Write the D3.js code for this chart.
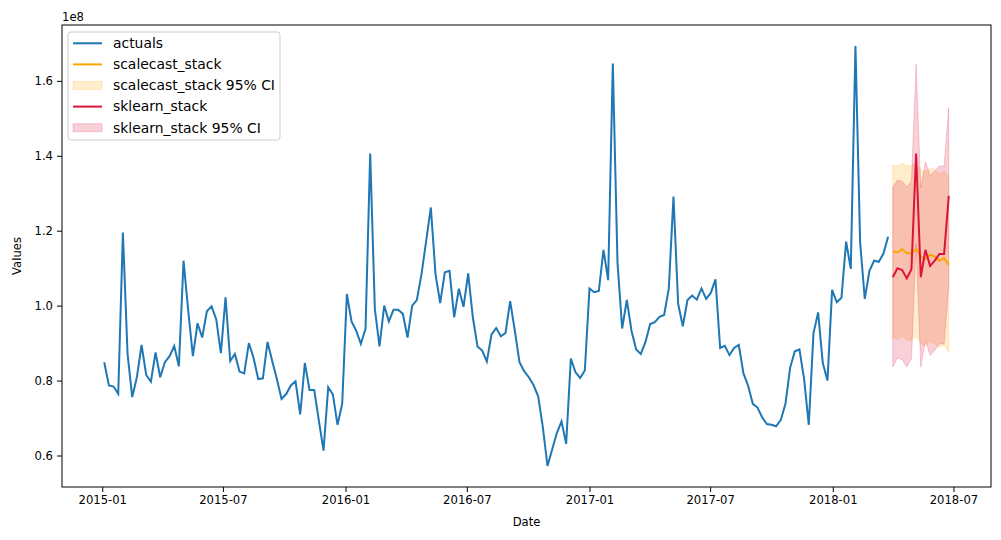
<!DOCTYPE html>
<html>
<head>
<meta charset="utf-8">
<script src="https://cdn.jsdelivr.net/npm/d3@7"></script>
<style>
  body { margin: 0; background: #fff; }
  svg { font-family: "DejaVu Sans", sans-serif; }
</style>
</head>
<body>
<script>
// weekly actuals, in units of 1e8
const actuals = [
  0.849, 0.787, 0.784, 0.765, 1.195, 0.871, 0.756, 0.809, 0.895, 0.815,
  0.797, 0.875, 0.809, 0.849, 0.865, 0.892, 0.838, 1.120, 0.987, 0.865,
  0.953, 0.915, 0.985, 0.998, 0.964, 0.873, 1.022, 0.852, 0.871, 0.824,
  0.819, 0.900, 0.861, 0.804, 0.806, 0.903, 0.852, 0.804, 0.751, 0.764,
  0.787, 0.798, 0.710, 0.847, 0.775, 0.775, 0.693, 0.613, 0.782, 0.763,
  0.682, 0.738, 1.031, 0.958, 0.933, 0.898, 0.938, 1.406, 0.991, 0.891,
  1.000, 0.958, 0.989, 0.989, 0.978, 0.915, 1.000, 1.015, 1.084, 1.173,
  1.262, 1.084, 1.007, 1.089, 1.093, 0.969, 1.045, 0.997, 1.086, 0.969,
  0.891, 0.880, 0.851, 0.923, 0.940, 0.918, 0.927, 1.012, 0.933, 0.849,
  0.825, 0.809, 0.788, 0.758, 0.676, 0.572, 0.616, 0.660, 0.691, 0.631,
  0.859, 0.822, 0.807, 0.827, 1.046, 1.036, 1.039, 1.149, 1.068, 1.646,
  1.115, 0.939, 1.015, 0.933, 0.883, 0.871, 0.903, 0.951, 0.956, 0.970,
  0.975, 1.046, 1.291, 1.005, 0.945, 1.015, 1.027, 1.016, 1.046, 1.018,
  1.034, 1.070, 0.887, 0.893, 0.868, 0.887, 0.895, 0.819, 0.786, 0.738,
  0.728, 0.702, 0.684, 0.682, 0.678, 0.695, 0.738, 0.834, 0.878, 0.883,
  0.804, 0.682, 0.926, 0.982, 0.847, 0.800, 1.042, 1.009, 1.021, 1.171,
  1.098, 1.693, 1.169, 1.018, 1.093, 1.120, 1.117, 1.139, 1.184
];

// 13 week forecast
const scalecast = [1.145, 1.142, 1.151, 1.140, 1.140, 1.151, 1.131, 1.125, 1.136, 1.131, 1.120, 1.127, 1.109];
const scalecastUpper = [1.375, 1.373, 1.380, 1.373, 1.373, 1.381, 1.363, 1.357, 1.368, 1.363, 1.352, 1.359, 1.341];
const scalecastLower = [0.913, 0.910, 0.919, 0.908, 0.908, 0.919, 0.899, 0.893, 0.904, 0.899, 0.888, 0.895, 0.877];

const sklearn = [1.076, 1.100, 1.095, 1.073, 1.097, 1.406, 1.076, 1.149, 1.106, 1.120, 1.138, 1.138, 1.293];
const sklearnUpper = [1.316, 1.335, 1.332, 1.316, 1.332, 1.645, 1.314, 1.384, 1.347, 1.360, 1.373, 1.373, 1.529];
const sklearnLower = [0.836, 0.860, 0.856, 0.836, 0.858, 1.166, 0.836, 0.907, 0.867, 0.880, 0.898, 0.898, 1.052];

const xTicks = ["2015-01", "2015-07", "2016-01", "2016-07", "2017-01", "2017-07", "2018-01", "2018-07"];
const yTicks = [0.6, 0.8, 1.0, 1.2, 1.4, 1.6];

const actualDates = d3.utcWeek.range(new Date(Date.UTC(2015, 0, 4)), new Date(Date.UTC(2018, 2, 26)));
const fcDates = d3.utcWeek.range(new Date(Date.UTC(2018, 3, 1)), new Date(Date.UTC(2018, 5, 25)));

const W = 1001, H = 540;
const margin = { top: 25, right: 10, bottom: 53, left: 62 };
const width = W - margin.left - margin.right;
const height = H - margin.top - margin.bottom;

const svg = d3.select("body").append("svg")
  .attr("width", W)
  .attr("height", H);

const g = svg.append("g")
  .attr("transform", `translate(${margin.left},${margin.top})`);

// matplotlib style 5% autoscale margins
const xExt = [actualDates[0], fcDates[fcDates.length - 1]];
const xPad = (xExt[1] - xExt[0]) * 0.05;
const x = d3.scaleUtc()
  .domain([new Date(+xExt[0] - xPad), new Date(+xExt[1] + xPad)])
  .range([0, width]);

const yMin = d3.min([d3.min(actuals), d3.min(sklearnLower), d3.min(scalecastLower)]);
const yMax = d3.max([d3.max(actuals), d3.max(sklearnUpper), d3.max(scalecastUpper)]);
const yPad = (yMax - yMin) * 0.05;
const y = d3.scaleLinear()
  .domain([yMin - yPad, yMax + yPad])
  .range([height, 0]);

const parseMonth = d3.utcParse("%Y-%m");

// CI bands
const area = (lo, hi) => d3.area()
  .x((d, i) => x(fcDates[i]))
  .y0((d, i) => y(lo[i]))
  .y1((d, i) => y(hi[i]));

g.append("path")
  .datum(scalecast)
  .attr("d", area(scalecastLower, scalecastUpper))
  .attr("fill", "orange")
  .attr("fill-opacity", 0.2)
  .attr("stroke", "orange")
  .attr("stroke-opacity", 0.2);

g.append("path")
  .datum(sklearn)
  .attr("d", area(sklearnLower, sklearnUpper))
  .attr("fill", "crimson")
  .attr("fill-opacity", 0.2)
  .attr("stroke", "crimson")
  .attr("stroke-opacity", 0.2);

// lines
g.append("path")
  .datum(actuals)
  .attr("d", d3.line().x((d, i) => x(actualDates[i])).y(d => y(d)))
  .attr("fill", "none")
  .attr("stroke", "#1f77b4")
  .attr("stroke-width", 2);

g.append("path")
  .datum(scalecast)
  .attr("d", d3.line().x((d, i) => x(fcDates[i])).y(d => y(d)))
  .attr("fill", "none")
  .attr("stroke", "orange")
  .attr("stroke-width", 2);

g.append("path")
  .datum(sklearn)
  .attr("d", d3.line().x((d, i) => x(fcDates[i])).y(d => y(d)))
  .attr("fill", "none")
  .attr("stroke", "crimson")
  .attr("stroke-width", 2);

// axes
const xAxis = g.append("g")
  .attr("transform", `translate(0,${height})`)
  .call(d3.axisBottom(x)
    .tickValues(xTicks.map(parseMonth))
    .tickFormat(d3.utcFormat("%Y-%m"))
    .tickSize(5)
    .tickPadding(4));

const yAxis = g.append("g")
  .call(d3.axisLeft(y)
    .tickValues(yTicks)
    .tickFormat(d3.format(".1f"))
    .tickSize(5)
    .tickPadding(4));

[xAxis, yAxis].forEach(a => {
  a.select(".domain").remove();
  a.selectAll("line").attr("stroke", "#000").attr("stroke-width", 1);
  a.selectAll("text")
    .attr("fill", "#000")
    .style("font-size", "11.6px")
    .style("font-family", "DejaVu Sans");
});

// frame
g.append("rect")
  .attr("width", width)
  .attr("height", height)
  .attr("fill", "none")
  .attr("stroke", "#000")
  .attr("stroke-width", 1);

// labels
svg.append("text")
  .attr("x", margin.left)
  .attr("y", 21)
  .style("font-size", "11.6px")
  .text("1e8");

svg.append("text")
  .attr("x", margin.left + width / 2)
  .attr("y", 526)
  .attr("text-anchor", "middle")
  .style("font-size", "11.6px")
  .text("Date");

svg.append("text")
  .attr("transform", `translate(21,${margin.top + height / 2}) rotate(-90)`)
  .attr("text-anchor", "middle")
  .style("font-size", "11.6px")
  .text("Values");

// legend (larger font than ticks)
const legendItems = [
  { label: "actuals", type: "line", color: "#1f77b4" },
  { label: "scalecast_stack", type: "line", color: "orange" },
  { label: "scalecast_stack 95% CI", type: "patch", color: "orange" },
  { label: "sklearn_stack", type: "line", color: "crimson" },
  { label: "sklearn_stack 95% CI", type: "patch", color: "crimson" }
];

const legend = svg.append("g")
  .attr("transform", "translate(68,32)");

legend.append("rect")
  .attr("width", 212)
  .attr("height", 108)
  .attr("rx", 3)
  .attr("fill", "#fff")
  .attr("fill-opacity", 0.8)
  .attr("stroke", "#cccccc")
  .attr("stroke-width", 1);

const rows = legend.selectAll(".row")
  .data(legendItems)
  .enter().append("g")
  .attr("class", "row")
  .attr("transform", (d, i) => `translate(0,${11.3 + i * 21.1})`);

rows.filter(d => d.type === "line").append("line")
  .attr("x1", 5).attr("x2", 34)
  .attr("stroke", d => d.color)
  .attr("stroke-width", 2);

rows.filter(d => d.type === "patch").append("rect")
  .attr("x", 5).attr("y", -4)
  .attr("width", 29).attr("height", 8)
  .attr("fill", d => d.color)
  .attr("fill-opacity", 0.2)
  .attr("stroke", d => d.color)
  .attr("stroke-opacity", 0.2);

rows.append("text")
  .attr("x", 45)
  .attr("dy", "0.35em")
  .style("font-size", "13.9px")
  .text(d => d.label);
</script>
</body>
</html>
